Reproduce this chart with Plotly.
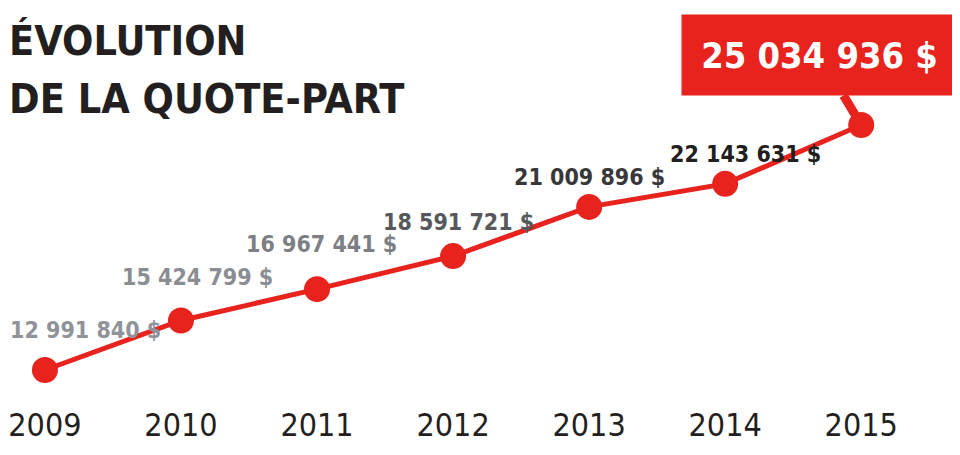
import plotly.graph_objects as go

years = [2009, 2010, 2011, 2012, 2013, 2014, 2015]
values = [12991840, 15424799, 16967441, 18591721, 21009896, 22143631, 25034936]
labels = ["12 991 840 $", "15 424 799 $", "16 967 441 $", "18 591 721 $",
          "21 009 896 $", "22 143 631 $", "25 034 936 $"]
tick_labels = ["2009", "2010", "2011", "2012", "2013", "2014", "2015"]
label_colors = ["#909399", "#8a8d92", "#7c7f84", "#56585c", "#38383a", "#231f20"]
label_offsets = [(41, -40), (17, -44), (4, -45), (5, -34), (0, -30), (20, -30)]
title_lines = ["ÉVOLUTION", "DE LA QUOTE-PART"]

RED = "#e8231e"
DARK = "#231f20"
FONT = "Liberation Sans Narrow, DejaVu Sans Condensed, sans-serif"

W, H = 952, 447          # page has an 8px body margin
PLOT_H = 392
px_per_year = 818 / 6
s = 20.34 / 1e6
y0 = values[0] - 30 / s
y1 = y0 + PLOT_H / s

fig = go.Figure()
fig.add_trace(go.Scatter(
    x=years, y=values, mode="lines+markers",
    line=dict(color=RED, width=5),
    marker=dict(color=RED, size=26),
    hoverinfo="skip", showlegend=False,
))

annotations = []
for yr, v, lab, col, (dx, dy) in zip(years[:-1], values[:-1], labels[:-1], label_colors, label_offsets):
    annotations.append(dict(
        x=yr, y=v, xref="x", yref="y", text=lab, showarrow=True,
        arrowcolor="rgba(0,0,0,0)", ax=dx, ay=dy, axref="pixel", ayref="pixel",
        font=dict(family=FONT, size=23, color=col, weight=700),
        xanchor="center", yanchor="middle",
    ))

# callout for the last value
annotations.append(dict(
    x=years[-1], y=values[-1], xref="x", yref="y", text=labels[-1],
    showarrow=True, arrowhead=0, arrowwidth=9, arrowcolor=RED, standoff=0,
    ax=-42, ay=-70, bgcolor=RED, width=275, height=80, borderpad=0,
    font=dict(family=FONT, size=36, color="white", weight=700),
    align="center", valign="middle",
))

annotations.append(dict(
    x=0, y=1 - 33 / PLOT_H, xref="paper", yref="paper", text=title_lines[0],
    showarrow=False, xanchor="left", yanchor="middle", xshift=-3,
    font=dict(family=FONT, size=41, color=DARK, weight=700),
))
annotations.append(dict(
    x=0, y=1 - 91 / PLOT_H, xref="paper", yref="paper", text=title_lines[1],
    showarrow=False, xanchor="left", yanchor="middle", xshift=-3,
    font=dict(family=FONT, size=41, color=DARK, weight=700),
))

fig.update_layout(
    width=W, height=H,
    margin=dict(l=0, r=0, t=0, b=H - PLOT_H),
    paper_bgcolor="white", plot_bgcolor="white",
    xaxis=dict(
        range=[2009 - 35 / px_per_year, 2015 + (W - 853) / px_per_year],
        tickvals=years, ticktext=tick_labels,
        showgrid=False, zeroline=False, showline=False, ticks="",
        ticklabeloverflow="allow", ticklabelstandoff=3,
        tickfont=dict(family=FONT, size=32, color=DARK),
        fixedrange=True,
    ),
    yaxis=dict(range=[y0, y1], visible=False, fixedrange=True),
    annotations=annotations,
    showlegend=False,
)

fig.write_html("out.html")
